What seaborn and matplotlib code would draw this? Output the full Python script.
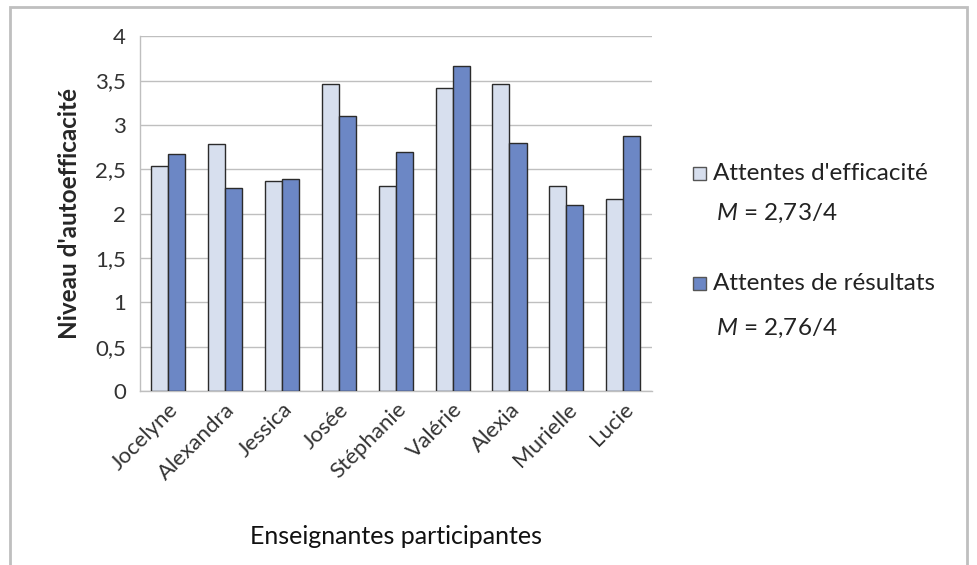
import pandas as pd
import matplotlib.pyplot as plt
import seaborn as sns
from matplotlib.patches import Rectangle

# Data
enseignantes = ["Jocelyne", "Alexandra", "Jessica", "Josée", "Stéphanie",
                "Valérie", "Alexia", "Murielle", "Lucie"]
attentes_efficacite = [2.54, 2.78, 2.37, 3.46, 2.31, 3.42, 3.46, 2.31, 2.16]
attentes_resultats = [2.67, 2.29, 2.39, 3.10, 2.69, 3.66, 2.79, 2.10, 2.88]
series = ["Attentes d'efficacité", "Attentes de résultats"]
moyennes = ["2,73/4", "2,76/4"]
y_ticks = [0, 0.5, 1, 1.5, 2, 2.5, 3, 3.5, 4]

df = pd.DataFrame({
    "Enseignante": enseignantes * 2,
    "Niveau": attentes_efficacite + attentes_resultats,
    "Serie": [series[0]] * len(enseignantes) + [series[1]] * len(enseignantes),
})

sns.set_style("white")
plt.rcParams["font.family"] = ["Lato", "DejaVu Sans"]
plt.rcParams["mathtext.fontset"] = "custom"
plt.rcParams["mathtext.it"] = "Lato:italic"
plt.rcParams["mathtext.rm"] = "Lato"

colors = ["#D7DFEE", "#6C87C5"]

fig = plt.figure(figsize=(9.77, 5.65), dpi=100)
ax = fig.add_axes([0.143, 0.308, 0.524, 0.628])

sns.barplot(data=df, x="Enseignante", y="Niveau", hue="Serie",
            palette=colors, saturation=1, width=0.6, gap=0,
            edgecolor="#2b2b2b", linewidth=1, ax=ax, legend=False, zorder=3)

ax.set_ylim(0, 4)
ax.set_xlim(-0.5, len(enseignantes) - 0.5)
ax.set_yticks(y_ticks)
ax.set_yticklabels([f"{v:g}".replace(".", ",") for v in y_ticks], fontsize=16, color="#333333")
ax.yaxis.grid(True, color="#BFBFBF", linewidth=1, zorder=0)
ax.set_axisbelow(True)

ax.set_xticks(range(len(enseignantes)))
ax.set_xticklabels(enseignantes, rotation=45, ha="right", rotation_mode="anchor",
                   fontsize=16, color="#333333")
ax.set_xticks([i - 0.5 for i in range(len(enseignantes) + 1)], minor=True)
ax.tick_params(axis="x", which="major", length=0, pad=6)
ax.tick_params(axis="x", which="minor", length=6, color="#BFBFBF", width=1)
ax.tick_params(axis="y", length=6, color="#BFBFBF", width=1, pad=4)

for side in ["top", "right"]:
    ax.spines[side].set_visible(False)
for side in ["left", "bottom"]:
    ax.spines[side].set_color("#BFBFBF")
    ax.spines[side].set_linewidth(1)

ax.set_ylabel("Niveau d'autoefficacité", fontsize=17.5, fontweight="bold", labelpad=10)
ax.set_xlabel("")
fig.text(0.405, 1 - 537 / 565, "Enseignantes participantes", fontsize=18, ha="center",
         va="center", color="#111111")

# legend as in the original: square + series name, then the mean below
legend_y = [173, 283]
mean_y = [213, 328]
for i in range(2):
    fig.patches.append(Rectangle((693 / 977, 1 - (legend_y[i] + 7) / 565), 13 / 977, 13 / 565,
                                 transform=fig.transFigure, facecolor=colors[i],
                                 edgecolor="#555555", linewidth=1))
    fig.text(713 / 977, 1 - legend_y[i] / 565, series[i], fontsize=17.5, va="center", color="#222222")
    fig.text(716 / 977, 1 - mean_y[i] / 565, r"$\it{M}$ = " + moyennes[i], fontsize=17.5,
             va="center", color="#222222")

# outer chart border
fig.patches.append(Rectangle((10 / 977, -0.05), 957 / 977, 1.05 - 7 / 565,
                             transform=fig.transFigure, fill=False,
                             edgecolor="#BFBFBF", linewidth=2))

fig.savefig("out.png", dpi=100)
